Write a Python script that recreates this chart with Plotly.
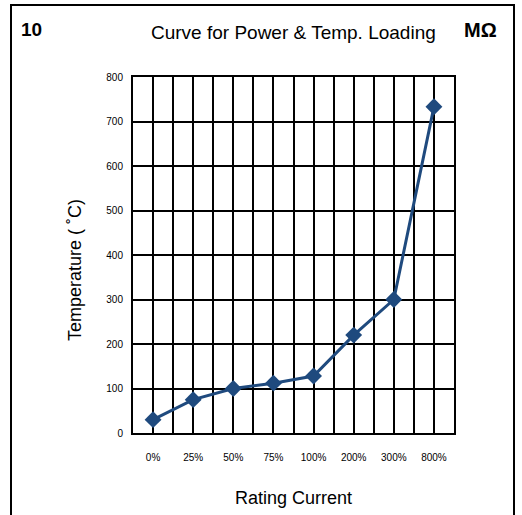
import plotly.graph_objects as go

categories = ["0%", "25%", "50%", "75%", "100%", "200%", "300%", "800%"]
temperatures = [30, 75, 100, 112, 128, 220, 300, 733]
y_ticks = [0, 100, 200, 300, 400, 500, 600, 700, 800]

W, H = 522, 515
L, R, T, B = 133, 454, 77, 433

x_idx = list(range(len(categories)))
minor_vals = [i + 0.5 for i in range(-1, len(categories))]

fig = go.Figure()
fig.add_trace(go.Scatter(
    x=x_idx, y=temperatures, mode="lines+markers",
    line=dict(color="#1F4A7E", width=3),
    marker=dict(symbol="diamond", size=13, color="#1F4A7E"),
    showlegend=False, hoverinfo="skip",
))

font = "Liberation Sans, Arial, sans-serif"
fig.update_layout(
    width=W, height=H,
    margin=dict(l=L, r=W - R, t=T, b=H - B),
    paper_bgcolor="white", plot_bgcolor="white",
    font=dict(family=font, color="black"),
)
fig.update_xaxes(
    range=[-0.5, len(categories) - 0.5],
    tickvals=x_idx, ticktext=categories,
    tickfont=dict(size=10, family=font),
    showgrid=True, gridcolor="black", gridwidth=2,
    minor=dict(tickvals=minor_vals, showgrid=True, gridcolor="black", gridwidth=2, ticks=""),
    showline=True, linecolor="black", linewidth=2, mirror=True,
    ticks="", ticklabelstandoff=14, zeroline=False, fixedrange=True,
)
fig.update_yaxes(
    range=[0, 800], tickvals=y_ticks,
    tickfont=dict(size=10, family=font),
    showgrid=True, gridcolor="black", gridwidth=2,
    showline=True, linecolor="black", linewidth=2, mirror=True,
    ticks="", ticklabelstandoff=6, zeroline=False, fixedrange=True,
)

def px_x(x):
    return (x - L) / (R - L)

def px_y(y):
    return (B - y) / (B - T)

# outer frame
fig.add_shape(type="rect", xref="paper", yref="paper",
              x0=px_x(11), x1=px_x(514), y0=px_y(530), y1=px_y(5),
              line=dict(color="black", width=2), layer="below")

fig.add_annotation(text="Curve for Power & Temp. Loading", xref="paper", yref="paper",
                   x=px_x(293), y=px_y(33), showarrow=False,
                   font=dict(size=19, family=font), xanchor="center", yanchor="middle")
fig.add_annotation(text="<b>10</b>", xref="paper", yref="paper",
                   x=px_x(19), y=px_y(30), showarrow=False,
                   font=dict(size=19, family=font), xanchor="left", yanchor="middle")
fig.add_annotation(text="<b>MΩ</b>", xref="paper", yref="paper",
                   x=px_x(499), y=px_y(30), showarrow=False,
                   font=dict(size=20, family=font), xanchor="right", yanchor="middle")
fig.add_annotation(text="Rating Current", xref="paper", yref="paper",
                   x=px_x(293), y=px_y(498), showarrow=False,
                   font=dict(size=18, family=font), xanchor="center", yanchor="middle")
fig.add_annotation(text="Temperature ( ˚C)", xref="paper", yref="paper",
                   x=px_x(75), y=px_y(270), showarrow=False, textangle=-90,
                   font=dict(size=18, family=font), xanchor="center", yanchor="middle")

fig.write_html("out.html", config={"displayModeBar": False},
               post_script="document.body.style.margin='0px';document.body.style.padding='0px';")
